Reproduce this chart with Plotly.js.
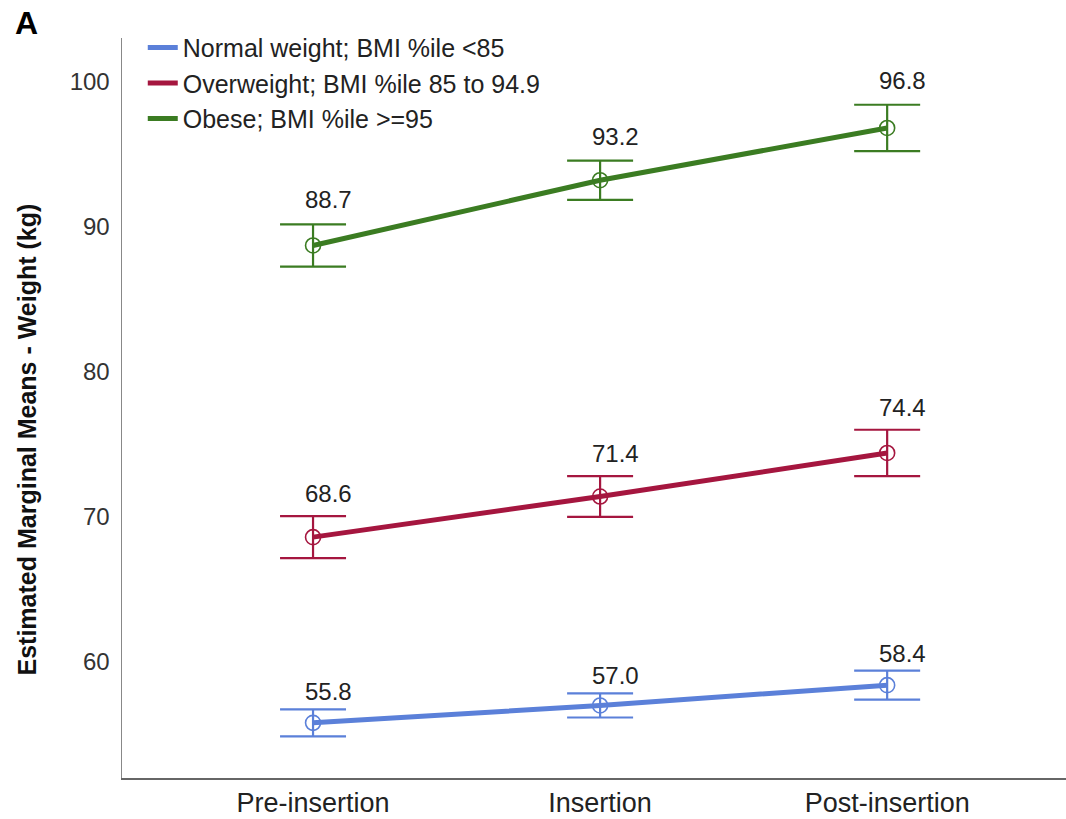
<!DOCTYPE html>
<html>
<head>
<meta charset="utf-8">
<script src="https://cdn.plot.ly/plotly-3.0.1.min.js"></script>
<style>html,body{margin:0;padding:0;background:#fff;}#chart{width:1066px;height:819px;}</style>
</head>
<body>
<div id="chart"></div>
<script>
var categories = ["Pre-insertion", "Insertion", "Post-insertion"];
var seriesNames = ["Normal weight; BMI %ile <85", "Overweight; BMI %ile 85 to 94.9", "Obese; BMI %ile >=95"];
var normalMeans = [55.8, 57.0, 58.4];
var normalErr = [0.93, 0.83, 1.0];
var overMeans = [68.6, 71.4, 74.4];
var overErr = [1.45, 1.4, 1.6];
var obeseMeans = [88.7, 93.2, 96.8];
var obeseErr = [1.45, 1.35, 1.6];
var yTicks = [60, 70, 80, 90, 100];

var colors = ["#5b80d9", "#a5163f", "#3b7c22"];
var means = [normalMeans, overMeans, obeseMeans];
var errs = [normalErr, overErr, obeseErr];
var labelShift = [2, 7, 9];
var FONT = "Arial, Liberation Sans, sans-serif";

var traces = [];
var annotations = [];
for (var s = 0; s < 3; s++) {
  traces.push({
    type: "scatter",
    mode: "lines+markers",
    name: seriesNames[s],
    x: categories,
    y: means[s],
    showlegend: false,
    line: {color: colors[s], width: 5},
    marker: {symbol: "circle-open", size: 15, color: colors[s], line: {width: 1.6, color: colors[s]}},
    error_y: {type: "data", array: errs[s], visible: true, color: colors[s], thickness: 2.2, width: 33},
    hoverinfo: "skip"
  });
  for (var i = 0; i < categories.length; i++) {
    annotations.push({
      x: categories[i], y: means[s][i] + errs[s][i], xref: "x", yref: "y",
      text: means[s][i].toFixed(1), showarrow: false,
      xanchor: "center", yanchor: "bottom", xshift: 15, yshift: labelShift[s],
      font: {family: FONT, size: 24, color: "#222"}
    });
  }
}
for (var s2 = 0; s2 < 3; s2++) {
  traces.push({
    type: "scatter", mode: "lines", name: seriesNames[s2],
    x: [categories[0]], y: [null],
    line: {color: colors[s2], width: 5}, showlegend: true, hoverinfo: "skip"
  });
}
annotations.push({
  xref: "paper", yref: "paper", x: -0.101, y: 0.457, textangle: -90,
  text: "<b>Estimated Marginal Means - Weight (kg)</b>", showarrow: false,
  xanchor: "center", yanchor: "middle",
  font: {family: FONT, size: 25, color: "#111"}
});
annotations.push({
  xref: "paper", yref: "paper", x: -0.115, y: 1.047,
  text: "<b>A</b>", showarrow: false, xanchor: "left", yanchor: "top",
  font: {family: FONT, size: 32, color: "#000"}
});

var layout = {
  width: 1066, height: 819,
  margin: {l: 122, r: 0, t: 38, b: 41},
  paper_bgcolor: "#fff", plot_bgcolor: "#fff",
  showlegend: true,
  legend: {x: 0.022, y: 1.018, xanchor: "left", yanchor: "top", bgcolor: "rgba(0,0,0,0)",
           font: {family: FONT, size: 25, color: "#222"},
           tracegroupgap: 0, itemwidth: 30},
  xaxis: {type: "category", range: [-0.6655, 2.623], showgrid: false, zeroline: false,
          showline: true, linecolor: "#666", linewidth: 2, ticks: "", ticklabelstandoff: 0,
          tickfont: {family: FONT, size: 27, color: "#222"}},
  yaxis: {range: [52, 103], tickvals: yTicks, showgrid: false, zeroline: false,
          showline: true, linecolor: "#888", linewidth: 1.5, ticks: "", ticklabelstandoff: 6,
          tickfont: {family: FONT, size: 24, color: "#333"}},
  annotations: annotations
};

Plotly.newPlot("chart", traces, layout, {displayModeBar: false, staticPlot: true});
</script>
</body>
</html>
